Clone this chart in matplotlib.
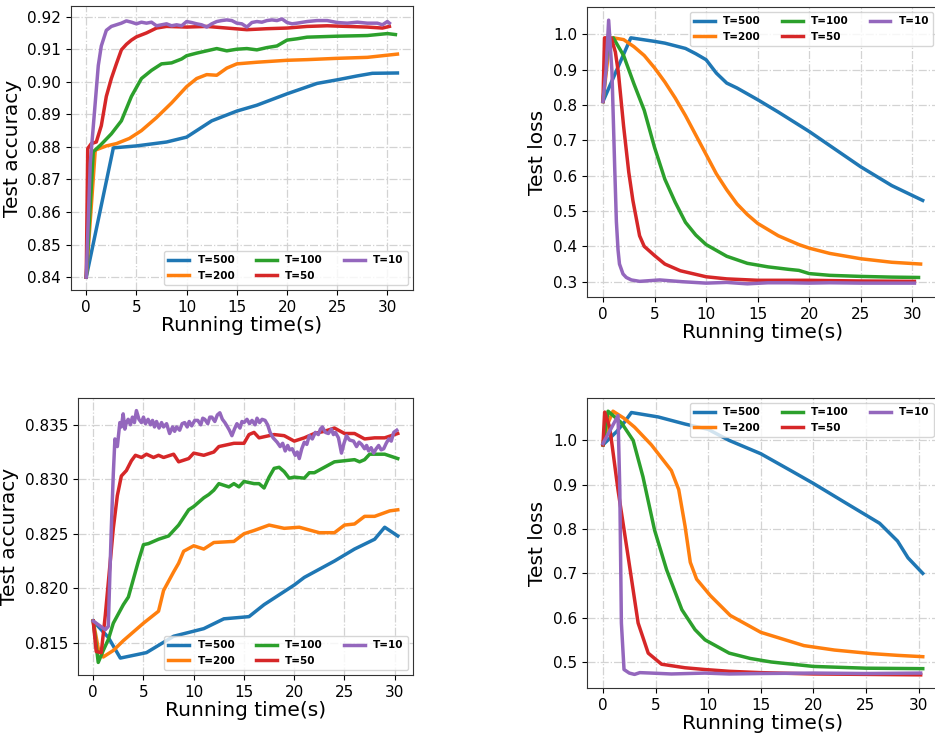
import matplotlib.pyplot as plt

labels = ["T=500", "T=200", "T=100", "T=50", "T=10"]
colors = ["tab:blue", "tab:orange", "tab:green", "tab:red", "tab:purple"]

# ---- top-left: test accuracy (run A) ----
acc_a_t500_x = [0, 2.7, 5, 8, 10, 12.5, 15, 17, 20, 23, 25, 27, 28.5, 31]
acc_a_t500_y = [0.840, 0.8797, 0.8803, 0.8815, 0.883, 0.888, 0.891, 0.8928, 0.8963, 0.8995, 0.9006, 0.9018, 0.9026, 0.9027]
acc_a_t200_x = [0, 0.9, 2, 3, 4.3, 5.5, 7, 8.5, 10, 11, 12, 13, 14, 15, 17, 20, 22, 25, 28, 31]
acc_a_t200_y = [0.840, 0.879, 0.8803, 0.881, 0.8826, 0.885, 0.889, 0.8935, 0.8985, 0.901, 0.9022, 0.902, 0.9042, 0.9055,
                0.906, 0.9066, 0.9068, 0.9072, 0.9075, 0.9085]
acc_a_t100_x = [0, 0.7, 1.5, 2.5, 3.5, 4.5, 5.5, 6.5, 7.5, 8.5, 9.5, 10, 11, 12, 13, 14, 15, 16, 17, 18, 19, 20, 21,
                22, 25, 28, 30, 30.8]
acc_a_t100_y = [0.840, 0.8785, 0.8808, 0.884, 0.888, 0.8955, 0.901, 0.9035, 0.9055, 0.9058, 0.907, 0.908, 0.9088,
                0.9095, 0.9102, 0.9095, 0.910, 0.9102, 0.9098, 0.9105, 0.911, 0.9128, 0.9132, 0.9137, 0.914, 0.9142,
                0.9148, 0.9145]
acc_a_t50_x = [0, 0.15, 0.5, 1, 1.5, 2, 2.5, 3, 3.5, 4, 4.5, 5, 6, 7, 8, 10, 12, 14, 16, 18, 20, 22, 24, 26, 28,
               29.5, 30.2]
acc_a_t50_y = [0.840, 0.8795, 0.881, 0.8815, 0.8865, 0.8955, 0.901, 0.9055, 0.9098, 0.9115, 0.9128, 0.9138, 0.915,
               0.9165, 0.917, 0.9168, 0.917, 0.9165, 0.916, 0.9163, 0.9165, 0.917, 0.9172, 0.917, 0.9168, 0.9165, 0.917]
acc_a_t10_x = [0, 0.4, 0.8, 1.2, 1.5, 2, 2.5, 3, 3.5, 4, 4.5, 5, 5.5, 6, 6.5, 7, 7.5, 8, 8.5, 9, 9.5, 10, 10.5, 11,
               11.5, 12, 12.5, 13, 13.5, 14, 14.5, 15, 15.5, 16, 16.5, 17, 17.5, 18, 18.5, 19, 19.5, 20, 20.5, 21,
               22, 23, 24, 25, 26, 27, 28, 29, 29.5, 30, 30.2]
acc_a_t10_y = [0.840, 0.875, 0.890, 0.905, 0.911, 0.9158, 0.917, 0.9175, 0.918, 0.9187, 0.9183, 0.9178, 0.9183,
               0.918, 0.9183, 0.9172, 0.9175, 0.9178, 0.9172, 0.9175, 0.9172, 0.9185, 0.9182, 0.9178, 0.9175,
               0.9168, 0.9178, 0.9185, 0.9188, 0.919, 0.9188, 0.918, 0.9178, 0.9168, 0.9182, 0.9185, 0.9183,
               0.9188, 0.919, 0.9188, 0.9193, 0.9182, 0.9178, 0.918, 0.9185, 0.9188, 0.9188, 0.9182, 0.918,
               0.9183, 0.918, 0.918, 0.9175, 0.9185, 0.918]

# ---- top-right: test loss (run A) ----
loss_a_t500_x = [0, 2.7, 5, 6, 8, 9, 10, 11, 12, 13, 15, 17, 20, 22, 25, 28, 31]
loss_a_t500_y = [0.81, 0.99, 0.98, 0.975, 0.96, 0.945, 0.928, 0.89, 0.862, 0.848, 0.815, 0.78, 0.725, 0.685,
                 0.625, 0.572, 0.53]
loss_a_t200_x = [0, 0.5, 1, 2, 3, 4, 5, 6, 7, 8, 9, 10, 11, 12, 13, 14, 15, 17, 19, 20, 22, 25, 28, 30.8]
loss_a_t200_y = [0.81, 0.94, 0.99, 0.985, 0.965, 0.94, 0.905, 0.865, 0.82, 0.77, 0.715, 0.66, 0.605, 0.56, 0.52,
                 0.49, 0.465, 0.43, 0.405, 0.395, 0.38, 0.365, 0.355, 0.35]
loss_a_t100_x = [0, 0.5, 1, 2, 3, 4, 5, 6, 7, 8, 9, 10, 12, 14, 16, 18, 19, 20, 22, 25, 28, 30.6]
loss_a_t100_y = [0.81, 0.98, 0.99, 0.94, 0.86, 0.785, 0.68, 0.59, 0.525, 0.468, 0.432, 0.405, 0.372, 0.352, 0.342,
                 0.335, 0.332, 0.323, 0.318, 0.315, 0.313, 0.312]
loss_a_t50_x = [0, 0.15, 0.8, 1.2, 1.5, 2, 2.5, 2.9, 3.55, 4, 5, 6, 7.5, 10, 12, 15, 20, 25, 30.2]
loss_a_t50_y = [0.81, 0.99, 0.99, 0.95, 0.89, 0.74, 0.61, 0.53, 0.43, 0.40, 0.374, 0.35, 0.331, 0.314, 0.308,
                0.304, 0.304, 0.302, 0.301]
loss_a_t10_x = [0, 0.3, 0.55, 0.87, 1.13, 1.3, 1.46, 1.6, 1.94, 2.26, 2.75, 3.55, 5.5, 7.7, 10, 12, 14, 16, 18, 20,
                22, 25, 28, 30.2]
loss_a_t10_y = [0.81, 0.9, 1.04, 0.895, 0.63, 0.47, 0.39, 0.35, 0.322, 0.312, 0.305, 0.301, 0.305, 0.3, 0.296,
                0.298, 0.294, 0.297, 0.297, 0.296, 0.297, 0.296, 0.296, 0.296]

# ---- bottom-left: test accuracy (run B) ----
acc_b_t500_x = [0, 1, 1.5, 2.7, 5.3, 8, 11, 13, 15.5, 17, 20, 21, 24, 26, 28, 29, 30.3]
acc_b_t500_y = [0.817, 0.816, 0.8155, 0.8136, 0.8141, 0.8156, 0.8163, 0.8172, 0.8174, 0.8185, 0.8203, 0.821,
                0.8225, 0.8236, 0.8245, 0.8256, 0.8248]
acc_b_t200_x = [0, 0.5, 1, 2, 3, 4, 5, 6.5, 7, 8, 8.5, 9, 10, 11, 12, 14, 15, 16, 17.5, 19, 20.5, 22.5, 24, 25,
                26, 27, 28, 29.5, 30.3]
acc_b_t200_y = [0.817, 0.8145, 0.8137, 0.8143, 0.8152, 0.816, 0.8168, 0.8179, 0.8198, 0.8215, 0.8223, 0.8234,
                0.8239, 0.8236, 0.8242, 0.8243, 0.825, 0.8253, 0.8258, 0.8255, 0.8256, 0.8251, 0.8251, 0.8258,
                0.8259, 0.8266, 0.8266, 0.8271, 0.8272]
acc_b_t100_x = [0, 0.5, 1, 1.5, 2, 3, 3.5, 4.5, 5, 5.5, 6.5, 7.5, 8.5, 9.5, 10, 11, 11.5, 12, 12.5, 13.5, 14, 14.5,
                15, 16, 16.5, 17, 17.5, 18, 18.5, 19, 19.5, 20, 21, 21.5, 22, 23, 24, 25, 26, 26.5, 27, 27.5, 28,
                29, 30.3]
acc_b_t100_y = [0.817, 0.8132, 0.8143, 0.8153, 0.8168, 0.8185, 0.8192, 0.8225, 0.824, 0.8241, 0.8245, 0.8248,
                0.8258, 0.8272, 0.8275, 0.8283, 0.8286, 0.829, 0.8296, 0.8293, 0.8296, 0.8293, 0.8298, 0.8296,
                0.8296, 0.8292, 0.8302, 0.831, 0.8311, 0.8307, 0.8301, 0.8302, 0.8301, 0.8306, 0.8306, 0.8311,
                0.8316, 0.8317, 0.8318, 0.8316, 0.8318, 0.8323, 0.8323, 0.8323, 0.8319]
acc_b_t50_x = [0, 0.3, 0.8, 1.2, 1.6, 2, 2.4, 2.8, 3.3, 3.8, 4.2, 4.8, 5.3, 6, 6.5, 7, 8, 8.5, 9.5, 10, 11, 12,
               12.5, 13.5, 14, 15, 15.5, 16, 16.5, 17, 18, 19, 20, 21, 22, 23, 24, 25, 26, 27, 28, 29, 30.3]
acc_b_t50_y = [0.817, 0.8142, 0.8141, 0.8175, 0.8215, 0.8255, 0.8285, 0.8303, 0.8308, 0.8317, 0.8322, 0.832,
               0.8323, 0.832, 0.8322, 0.832, 0.8323, 0.8316, 0.8319, 0.8324, 0.8322, 0.8325, 0.833, 0.8332,
               0.8333, 0.8333, 0.8341, 0.8343, 0.8338, 0.8339, 0.8341, 0.834, 0.8335, 0.8338, 0.8342, 0.8344,
               0.8347, 0.8342, 0.8342, 0.8337, 0.8338, 0.8338, 0.8342]
acc_b_t10_x = [0, 1.2, 1.5, 1.8, 2.0, 2.16, 2.4, 2.65, 2.8, 2.98, 3.15, 3.3, 3.48, 3.7, 3.9, 4.1, 4.3, 4.55, 4.8,
               5.0, 5.2, 5.46, 5.7, 5.9, 6.1, 6.3, 6.55, 6.8, 7.0, 7.3, 7.6, 7.9, 8.1, 8.3, 8.6, 8.85, 9.1, 9.35,
               9.55, 9.8, 10.1, 10.4, 10.7, 10.9, 11.1, 11.4, 11.6, 11.8, 12.1, 12.35, 12.6, 12.85, 13.1, 13.3,
               13.55, 13.8, 14.05, 14.3, 14.6, 14.8, 15.0, 15.3, 15.55, 15.8, 16.1, 16.3, 16.55, 16.8, 17.1, 17.35,
               17.6, 17.9, 18.1, 18.3, 18.6, 18.85, 19.1, 19.35, 19.55, 19.8, 20.1, 20.3, 20.5, 20.75, 21.0, 21.25,
               21.5, 21.8, 22.1, 22.4, 22.6, 22.8, 23.1, 23.4, 23.7, 23.9, 24.1, 24.4, 24.7, 24.95, 25.2, 25.5,
               25.9, 26.2, 26.45, 26.7, 27.0, 27.2, 27.4, 27.65, 27.9, 28.15, 28.4, 28.65, 28.9, 29.15, 29.4,
               29.65, 29.9, 30.2]
acc_b_t10_y = [0.817, 0.8162, 0.8165, 0.8255, 0.8305, 0.8337, 0.8330, 0.8352, 0.8348, 0.8360, 0.8346, 0.8352,
               0.8355, 0.8350, 0.8357, 0.8352, 0.8363, 0.8355, 0.8352, 0.8357, 0.8351, 0.8355, 0.8350, 0.8354,
               0.8348, 0.8353, 0.8347, 0.8352, 0.8348, 0.8351, 0.8342, 0.8348, 0.8344, 0.8348, 0.8345, 0.8351,
               0.8352, 0.8348, 0.8353, 0.8349, 0.8354, 0.8354, 0.8350, 0.8356, 0.8355, 0.8351, 0.8357, 0.8357,
               0.8353, 0.8359, 0.8361, 0.8355, 0.8352, 0.8349, 0.8345, 0.8340, 0.8346, 0.8351, 0.8347, 0.8353,
               0.8352, 0.8355, 0.8351, 0.8354, 0.8350, 0.8356, 0.8352, 0.8355, 0.8354, 0.8350, 0.8343, 0.8338,
               0.8336, 0.8334, 0.8330, 0.8333, 0.8326, 0.8331, 0.8327, 0.8328, 0.8322, 0.8325, 0.8319, 0.8328,
               0.8334, 0.8332, 0.8340, 0.8337, 0.8343, 0.8341, 0.8346, 0.8348, 0.8343, 0.8342, 0.8346, 0.8341,
               0.8343, 0.8338, 0.8324, 0.8333, 0.8340, 0.8336, 0.8335, 0.8330, 0.8334, 0.8332, 0.8328, 0.8331,
               0.8326, 0.8329, 0.8324, 0.8328, 0.8331, 0.8327, 0.8328, 0.8333, 0.8337, 0.8335, 0.8343, 0.8345]

# ---- bottom-right: test loss (run B) ----
loss_b_t500_x = [0, 1.3, 2.0, 2.7, 5.25, 7.8, 10, 12, 15, 18, 20, 23, 26.3, 28, 29, 30.4]
loss_b_t500_y = [0.99, 1.02, 1.04, 1.063, 1.053, 1.037, 1.025, 1.0, 0.97, 0.93, 0.903, 0.86, 0.813, 0.773, 0.735, 0.70]
loss_b_t200_x = [0, 0.5, 0.95, 2, 3, 4.6, 6.5, 7.2, 7.8, 8.3, 8.9, 10.2, 12.1, 15, 19.1, 22, 25.5, 28, 30.4]
loss_b_t200_y = [0.99, 1.04, 1.066, 1.05, 1.03, 0.99, 0.932, 0.889, 0.807, 0.725, 0.687, 0.65, 0.605, 0.567,
                 0.537, 0.527, 0.519, 0.515, 0.512]
loss_b_t100_x = [0, 0.48, 1.75, 2.87, 3.8, 4.9, 6.05, 7.5, 8.75, 9.7, 12, 14, 16, 18, 20, 25, 30.4]
loss_b_t100_y = [0.99, 1.066, 1.04, 1.0, 0.918, 0.798, 0.708, 0.618, 0.573, 0.55, 0.52, 0.508, 0.5, 0.495, 0.49,
                 0.486, 0.485]
loss_b_t50_x = [0, 0.16, 0.64, 1.43, 2.39, 3.34, 4.3, 5.57, 7.8, 9.7, 12, 15, 20, 25, 30.2]
loss_b_t50_y = [0.99, 1.064, 1.03, 0.888, 0.738, 0.588, 0.52, 0.495, 0.487, 0.483, 0.479, 0.476, 0.473, 0.472, 0.471]
loss_b_t10_x = [0, 1.43, 1.6, 1.75, 2.0, 2.5, 3.0, 3.5, 4.6, 6.5, 9.7, 12, 15, 20, 25, 30.2]
loss_b_t10_y = [0.993, 1.056, 0.888, 0.588, 0.483, 0.475, 0.472, 0.476, 0.475, 0.473, 0.475, 0.473, 0.474, 0.475,
                0.474, 0.475]

panels = [
    ([acc_a_t500_x, acc_a_t200_x, acc_a_t100_x, acc_a_t50_x, acc_a_t10_x],
     [acc_a_t500_y, acc_a_t200_y, acc_a_t100_y, acc_a_t50_y, acc_a_t10_y],
     "Test accuracy", "lower right", [0.0756, 0.6054, 0.3661, 0.3864]),
    ([loss_a_t500_x, loss_a_t200_x, loss_a_t100_x, loss_a_t50_x, loss_a_t10_x],
     [loss_a_t500_y, loss_a_t200_y, loss_a_t100_y, loss_a_t50_y, loss_a_t10_y],
     "Test loss", "upper right", [0.6278, 0.5959, 0.3761, 0.3946]),
    ([acc_b_t500_x, acc_b_t200_x, acc_b_t100_x, acc_b_t50_x, acc_b_t10_x],
     [acc_b_t500_y, acc_b_t200_y, acc_b_t100_y, acc_b_t50_y, acc_b_t10_y],
     "Test accuracy", "lower right", [0.0834, 0.0816, 0.3583, 0.3769]),
    ([loss_b_t500_x, loss_b_t200_x, loss_b_t100_x, loss_b_t50_x, loss_b_t10_x],
     [loss_b_t500_y, loss_b_t200_y, loss_b_t100_y, loss_b_t50_y, loss_b_t10_y],
     "Test loss", "upper right", [0.6278, 0.0639, 0.3762, 0.3946]),
]

fig = plt.figure(figsize=(9.35, 7.35), dpi=100)

for xs, ys, ylab, loc, pos in panels:
    ax = fig.add_axes(pos)
    for x, y, lab, c in zip(xs, ys, labels, colors):
        ax.plot(x, y, color=c, lw=2.5, label=lab)
    ax.grid(True, linestyle="-.", color="lightgray", linewidth=0.9)
    ax.set_xticks([0, 5, 10, 15, 20, 25, 30])
    ax.tick_params(labelsize=11)
    ax.set_xlabel("Running time(s)", fontsize=14.5, labelpad=1)
    ax.set_ylabel(ylab, fontsize=14.5)
    for s in ax.spines.values():
        s.set_color("0.2")
    ax.legend(loc=loc, ncol=3, prop={"weight": "bold", "size": 7.5})

fig.savefig("out.png", dpi=100)
